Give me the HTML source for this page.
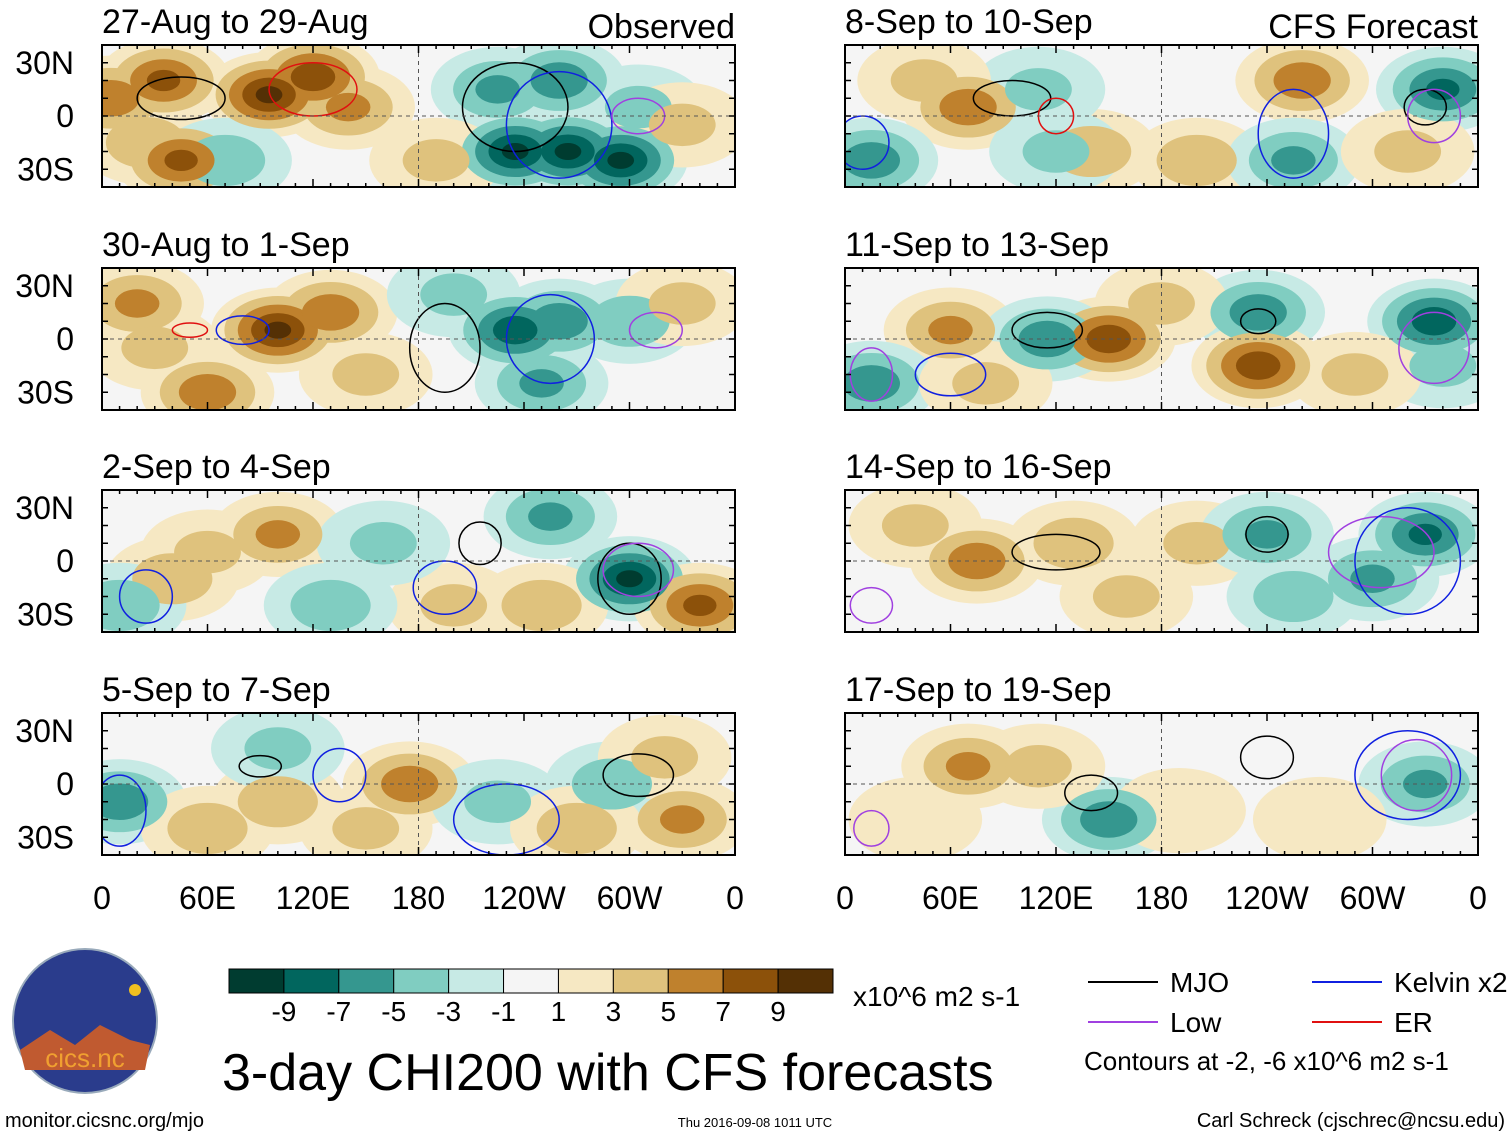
<!DOCTYPE html>
<html><head><meta charset="utf-8"><style>
body{margin:0;background:#fff;}
svg{display:block;font-family:"Liberation Sans",sans-serif;}
</style></head><body>
<svg id="c" width="1510" height="1137" viewBox="0 0 1510 1137"></svg>
<script>
// ---- data ----
const panelTitles=["27-Aug to 29-Aug","30-Aug to 1-Sep","2-Sep to 4-Sep","5-Sep to 7-Sep","8-Sep to 10-Sep","11-Sep to 13-Sep","14-Sep to 16-Sep","17-Sep to 19-Sep"];
const lonTicks=[0,60,120,180,240,300,360];
const lonTickLabels=["0","60E","120E","180","120W","60W","0"];
const latTicks=[30,0,-30];
const latTickLabels=["30N","0","30S"];
const levelLabels=["-9","-7","-5","-3","-1","1","3","5","7","9"];
const levelColors=["#003c30","#01665e","#35978f","#80cdc1","#c7eae5","#f5f5f5","#f6e8c3","#dfc27d","#bf812d","#8c510a","#543005"];
// anomaly blobs per panel: [lon, lat, value]
const blobs0=[[5,10,6],[35,20,7],[95,12,9],[120,22,8],[140,5,5],[45,-25,7],[25,-15,4],[235,-20,-9],[265,-20,-9],[295,-25,-9],[225,15,-5],[260,20,-6],[305,5,-3],[190,-25,3],[330,-5,3],[70,-25,-4]];
const blobs1=[[100,5,9],[130,15,6],[20,20,5],[60,-30,6],[235,5,-8],[260,10,-6],[300,10,-4],[250,-25,-5],[200,25,-3],[150,-20,3],[30,-5,3],[330,20,3]];
const blobs2=[[100,15,5],[40,-10,4],[60,5,3],[300,-10,-9],[255,25,-5],[200,-25,3],[250,-25,4],[340,-25,7],[10,-25,-4],[130,-25,-4],[160,10,-3]];
const blobs3=[[10,-10,-6],[100,-10,4],[175,0,6],[225,-10,-3],[330,-20,5],[100,20,-3],[290,0,-4],[60,-25,4],[320,15,3],[150,-25,3],[270,-25,4]];
const blobs4=[[70,5,6],[140,-20,4],[200,-25,4],[260,20,6],[340,15,-7],[15,-25,-6],[110,15,-3],[255,-25,-5],[120,-20,-3],[320,-20,3],[45,20,3]];
const blobs5=[[60,5,5],[150,0,8],[115,0,-6],[235,15,-6],[235,-15,8],[335,10,-8],[15,-25,-6],[340,-15,-3],[180,20,3],[290,-20,3],[80,-25,3]];
const blobs6=[[75,0,6],[130,10,4],[200,10,3],[240,15,-5],[330,15,-7],[300,-10,-5],[255,-20,-4],[160,-20,3],[40,20,3]];
const blobs7=[[70,10,5],[150,-20,-6],[330,0,-5],[110,10,3],[190,-15,2],[270,-20,2],[40,-20,2]];
const allBlobs=[blobs0,blobs1,blobs2,blobs3,blobs4,blobs5,blobs6,blobs7];
// contour loops per panel: [lon, lat, rxDeg, ryDeg, type]
const loops0=[[45,10,25,12,"k"],[120,15,25,15,"r"],[235,5,30,25,"k"],[260,-5,30,30,"b"],[305,0,15,10,"p"]];
const loops1=[[80,5,15,8,"b"],[195,-5,20,25,"k"],[255,0,25,25,"b"],[315,5,15,10,"p"],[50,5,10,4,"r"]];
const loops2=[[215,10,12,12,"k"],[195,-15,18,15,"b"],[300,-10,18,20,"k"],[305,-5,20,15,"p"],[25,-20,15,15,"b"]];
const loops3=[[90,10,12,6,"k"],[135,5,15,15,"b"],[230,-20,30,20,"b"],[305,5,20,12,"k"],[10,-15,15,20,"b"]];
const loops4=[[95,10,22,10,"k"],[120,0,10,10,"r"],[255,-10,20,25,"b"],[330,5,12,10,"k"],[335,0,15,15,"p"],[10,-15,15,15,"b"]];
const loops5=[[115,5,20,10,"k"],[235,10,10,7,"k"],[335,-5,20,20,"p"],[15,-20,12,15,"p"],[60,-20,20,12,"b"]];
const loops6=[[120,5,25,10,"k"],[240,15,12,10,"k"],[305,5,30,20,"p"],[320,0,30,30,"b"],[15,-25,12,10,"p"]];
const loops7=[[140,-5,15,10,"k"],[240,15,15,12,"k"],[320,5,30,25,"b"],[325,5,20,20,"p"],[15,-25,10,10,"p"]];
const allLoops=[loops0,loops1,loops2,loops3,loops4,loops5,loops6,loops7];

const NS="http://www.w3.org/2000/svg";
const svg=document.getElementById('c');
function mk(tag,attrs,parent){const e=document.createElementNS(NS,tag);for(const k in attrs)e.setAttribute(k,attrs[k]);(parent||svg).appendChild(e);return e;}
const colLeft=[102,845], rowTop=[45,268,490,713], PW=633, PH=142;
const loopColor={k:"#000",b:"#1020e0",p:"#a040e0",r:"#e01010"};
function colorFor(v){const i=Math.max(0,Math.min(10,Math.floor((v+11)/2)));return levelColors[i];}

for(let p=0;p<8;p++){
  const col=Math.floor(p/4), row=p%4;
  const x0=colLeft[col], y0=rowTop[row];
  const xs=lon=>x0+lon/360*PW;
  const ys=lat=>y0+PH/2-lat/40*(PH/2);
  const g=mk('g',{});
  
  
  const cp=mk('clipPath',{id:'cp'+p},g);
  mk('rect',{x:x0,y:y0,width:PW,height:PH},cp);
  const inner=mk('g',{'clip-path':'url(#cp'+p+')'},g);
  mk('rect',{x:x0,y:y0,width:PW,height:PH,fill:levelColors[5]},inner);
  // outer (weakest) rings first, so stronger cores overlay
  const maxA=9;
  for(let k=1;k<=maxA;k+=2){
    allBlobs[p].forEach(b=>{
      const [lon,lat,v]=b, a=Math.abs(v), s=Math.sign(v);
      if(k>a) return;
      const f=(a-k+2)/(a+1);
      const e=mk('ellipse',{cx:xs(lon),cy:ys(lat),rx:38*f*PW/360,ry:24*f*(PH/80),fill:colorFor(s*(k+1))},inner);
      
      
    });
  }
  allLoops[p].forEach(l=>{
    const e=mk('ellipse',{cx:xs(l[0]),cy:ys(l[1]),rx:l[2]*PW/360,ry:l[3]*PH/80,fill:'none',stroke:loopColor[l[4]],'stroke-width':1.5},inner);
    
    
  });
  mk('line',{x1:x0,x2:x0+PW,y1:ys(0),y2:ys(0),stroke:'#555','stroke-dasharray':'4,4','stroke-width':1},g);
  mk('line',{x1:xs(180),x2:xs(180),y1:y0,y2:y0+PH,stroke:'#555','stroke-dasharray':'4,4','stroke-width':1},g);
  mk('rect',{x:x0,y:y0,width:PW,height:PH,fill:'none',stroke:'#000','stroke-width':2},g);
  for(let lon=0;lon<=360;lon+=10){const L=(lon%60==0)?8:4;
    mk('line',{x1:xs(lon),x2:xs(lon),y1:y0,y2:y0+L,stroke:'#000','stroke-width':1.5},g);
    mk('line',{x1:xs(lon),x2:xs(lon),y1:y0+PH,y2:y0+PH-L,stroke:'#000','stroke-width':1.5},g);}
  for(let lat=-30;lat<=30;lat+=10){
    mk('line',{x1:x0,x2:x0+6,y1:ys(lat),y2:ys(lat),stroke:'#000','stroke-width':1.5},g);
    mk('line',{x1:x0+PW,x2:x0+PW-6,y1:ys(lat),y2:ys(lat),stroke:'#000','stroke-width':1.5},g);}
  const t=mk('text',{x:x0,y:y0-12,'font-size':34},g);t.textContent=panelTitles[p];
  
  if(col==0){latTicks.forEach((lat,i)=>{const tt=mk('text',{x:74,y:ys(lat)+11,'font-size':32,'text-anchor':'end'},g);tt.textContent=latTickLabels[i];
    });}
  if(row==3){lonTicks.forEach((lon,i)=>{const tt=mk('text',{x:xs(lon),y:909,'font-size':32,'text-anchor':'middle'},g);tt.textContent=lonTickLabels[i];
    });}
}
function txt(x,y,s,str,anchor,name){const t=mk('text',{x:x,y:y,'font-size':s,'text-anchor':anchor||'start'});t.textContent=str;
  return t;}
txt(735,38,34,"Observed","end","observed-label");
txt(1478,38,34,"CFS Forecast","end","cfs-forecast-label");
// colorbar
const cb=mk('g',{});
const cbx=229,cbw=604/11;
levelColors.forEach((c,i)=>mk('rect',{x:cbx+i*cbw,y:969,width:cbw,height:24,fill:c,stroke:'#000','stroke-width':1},cb));
levelLabels.forEach((l,i)=>{const t=mk('text',{x:cbx+(i+1)*cbw,y:1021,'font-size':28,'text-anchor':'middle'},cb);t.textContent=l;});
txt(853,1006,28,"x10^6 m2 s-1","start","colorbar-units");
txt(222,1090,52,"3-day CHI200 with CFS forecasts","start","main-title");
// legend
const lg=[[1088,982,"#000","MJO"],[1312,982,"#1020e0","Kelvin x2"],[1088,1022,"#a040e0","Low"],[1312,1022,"#e01010","ER"]];
lg.forEach(l=>{const g=mk('g',{});
  mk('line',{x1:l[0],x2:l[0]+70,y1:l[1],y2:l[1],stroke:l[2],'stroke-width':2},g);
  const t=mk('text',{x:l[0]+82,y:l[1]+10,'font-size':28},g);t.textContent=l[3];});
txt(1084,1070,26,"Contours at -2, -6 x10^6 m2 s-1","start","contour-note");
txt(5,1127,20,"monitor.cicsnc.org/mjo","start","source-url");
txt(755,1127,13,"Thu 2016-09-08 1011 UTC","middle","timestamp");
txt(1505,1127,20,"Carl Schreck (cjschrec@ncsu.edu)","end","author");
// logo
const lgo=mk('g',{});
mk('circle',{cx:85,cy:1021,r:72,fill:'#2a3c8c',stroke:'#9ab',"stroke-width":2},lgo);
mk('path',{d:'M20,1050 L50,1030 L75,1045 L100,1025 L130,1040 L150,1045 L145,1070 L25,1070Z',fill:'#c05a30'},lgo);
mk('circle',{cx:135,cy:990,r:6,fill:'#f0c020'},lgo);
const lt=mk('text',{x:85,y:1067,'font-size':26,'text-anchor':'middle',fill:'#f0a030'},lgo);lt.textContent="cics.nc";
</script>
</body></html>
